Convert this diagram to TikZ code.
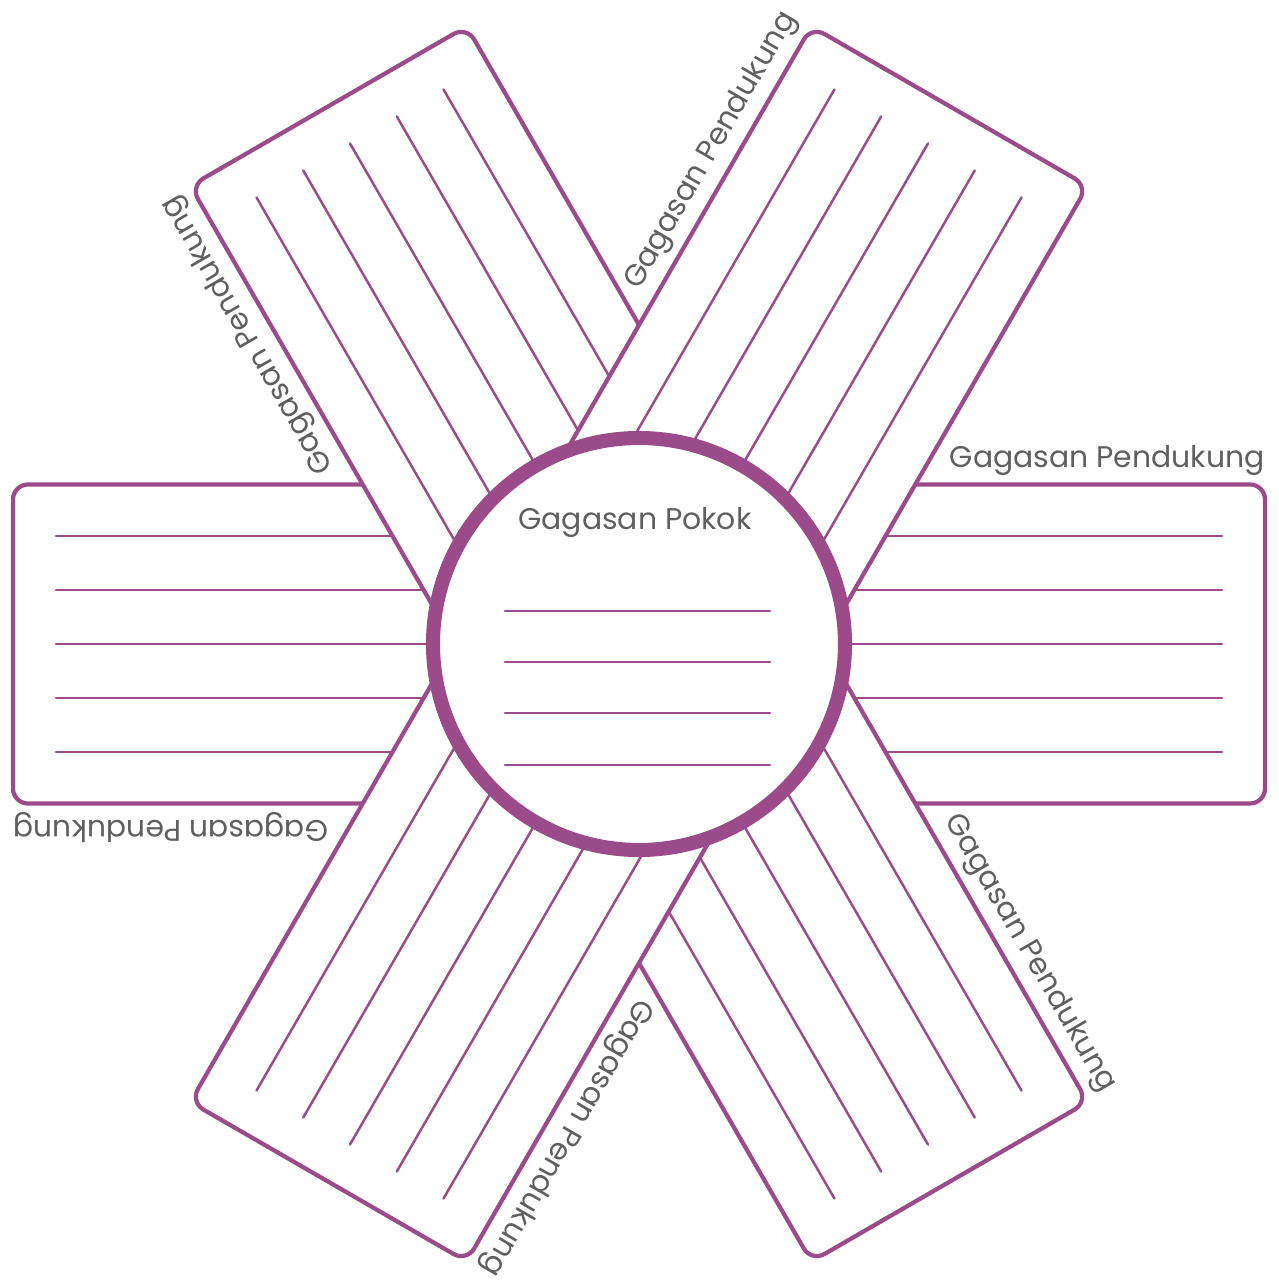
\documentclass[tikz,border=0pt]{standalone}
\usepackage{fontspec}
\setmainfont{Poppins}
\usepackage{xcolor}
\usepackage{tikz}
\usetikzlibrary{positioning}
\definecolor{plum}{RGB}{155,74,138}
\definecolor{inkgray}{RGB}{95,95,95}

\begin{document}
\begin{tikzpicture}[
  every node/.style={font=\fontsize{17}{20}\selectfont, text=inkgray},
  arm/.style={draw=plum, line width=2.4pt, fill=white, rounded corners=0.3cm},
  rule/.style={draw=plum, line width=1.4pt, line cap=round},
  hub/.style={draw=plum, line width=8pt, fill=white, circle, minimum size=8.24cm, inner sep=0pt},
  tag/.style={anchor=base east, inner sep=0pt}
]
  \useasboundingbox (-12.78,-12.84) rectangle (12.78,12.88);

  % arms: flat one first, slanted ones laid over it
  \foreach \ang/\len [count=\n] in {0/12.52, -60/12.42, 60/12.42} {
    \begin{scope}[rotate=\ang]
      \path[arm] (-\len,-3.19) rectangle (\len,3.19);
      \foreach \k in {-2,...,2}
        \draw[rule] (-\len+0.86,\k*1.08) -- (\len-0.86,\k*1.08);
      \node[tag, rotate=\ang] (tagA\n) at (\len,3.53) {Gagasan Pendukung};
      \node[tag, rotate=\ang+180] (tagB\n) at (-\len,-3.53) {Gagasan Pendukung};
    \end{scope}
  }

  % main idea in the middle
  \node[hub] (core) at (0,0) {};
  \node (title) at (-0.08,2.44) {Gagasan Pokok};
  \foreach \y in {0.66,-0.36,-1.38,-2.42}
    \draw[rule] (-2.68,\y) -- (2.62,\y);
\end{tikzpicture}
\end{document}
